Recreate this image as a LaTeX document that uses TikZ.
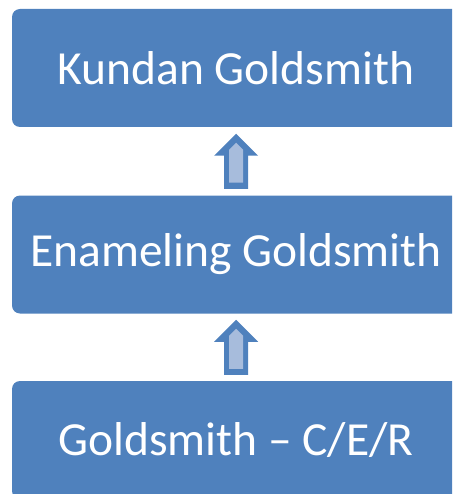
\documentclass[tikz,border=0pt]{standalone}
\usepackage{fontspec}
\setmainfont{Carlito}
\usetikzlibrary{calc}
\definecolor{boxblue}{HTML}{4F81BD}
\definecolor{arrowfill}{HTML}{A7BCDC}
\begin{document}
\begin{tikzpicture}[x=1pt,y=1pt,
  stagebox/.style={fill=boxblue, rounded corners=8pt, minimum width=448pt, minimum height=118pt,
    text=white, font=\fontsize{47.5}{52}\selectfont, inner sep=0pt},
  uparrow/.pic={
    \fill[boxblue] (0,27.5) -- (22,5.5) -- (12,5.5) -- (12,-27.5) -- (-12,-27.5) -- (-12,5.5) -- (-22,5.5) -- cycle;
    \fill[arrowfill] (0,18.5) -- (7,11.5) -- (7,-21.5) -- (-7,-21.5) -- (-7,11.5) -- cycle;
  }]
\useasboundingbox (0,0) rectangle (452,-494);
\begin{scope}
\clip (0,0) rectangle (452,-494);
\node[stagebox] (kundan) at (236,-68) {Kundan Goldsmith};
\node[stagebox] (enamel) at (236,-254.5) {Enameling Goldsmith};
\node[stagebox] (gold) at (236,-440) {Goldsmith – C/E/R};
\pic at ($(enamel.north)!0.5!(kundan.south)$) {uparrow};
\pic at ($(gold.north)!0.5!(enamel.south)$) {uparrow};
\end{scope}
\end{tikzpicture}
\end{document}
